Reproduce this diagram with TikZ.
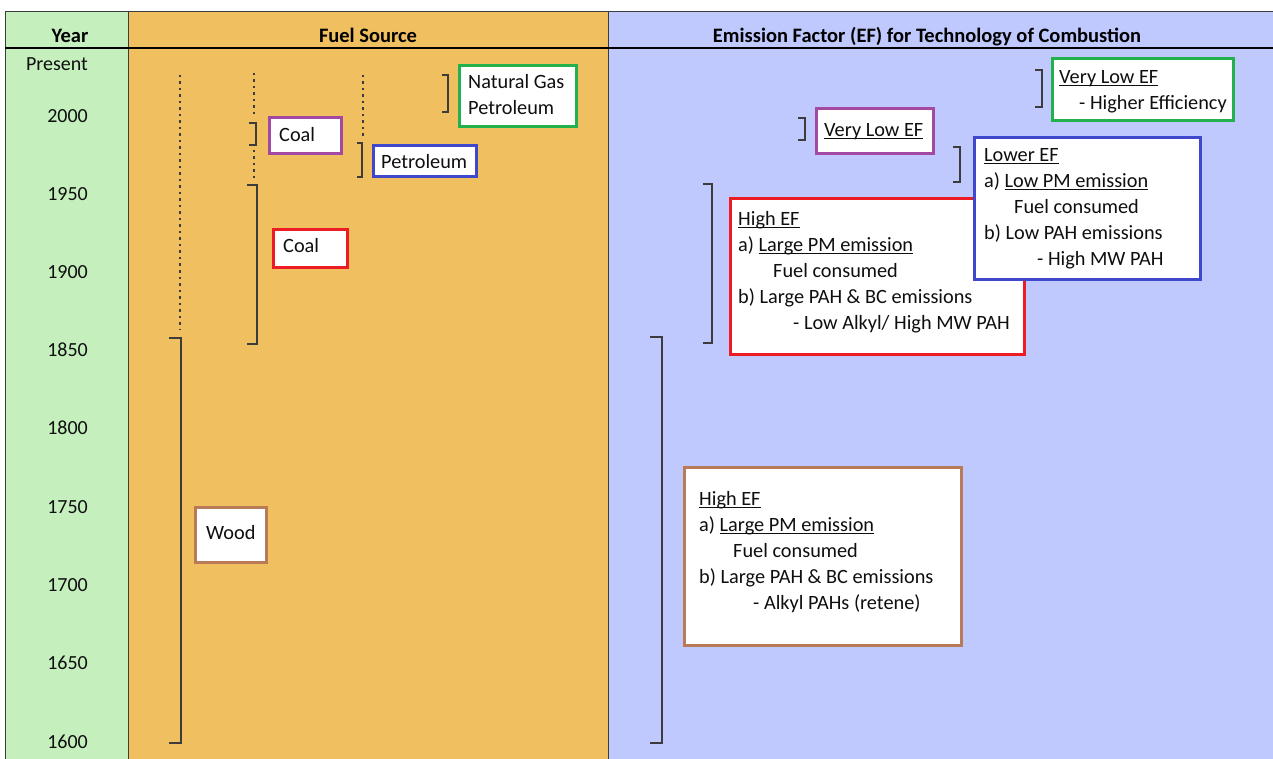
\documentclass[tikz,border=0pt]{standalone}
\usepackage{fontspec}
\setmainfont{Carlito}
\definecolor{colYear}{RGB}{198,239,190}
\definecolor{colFuel}{RGB}{240,192,96}
\definecolor{colEF}{RGB}{191,201,254}
\definecolor{bGreen}{RGB}{34,177,76}
\definecolor{bPurple}{RGB}{163,73,164}
\definecolor{bBlue}{RGB}{63,72,204}
\definecolor{bRed}{RGB}{237,28,36}
\definecolor{bBrown}{RGB}{185,122,87}
\definecolor{inkc}{RGB}{15,15,15}
\definecolor{gridc}{RGB}{60,60,60}
\newcommand\ulin[1]{\setbox0=\hbox{#1}\rlap{\rule[-2.4pt]{\wd0}{1.1pt}}\box0}
\tikzset{
  txt/.style={font=\fontsize{20.3}{24}\selectfont, inner sep=0pt, anchor=base west, text=inkc, yshift=-1.7pt},
  yr/.style={font=\fontsize{20}{24}\selectfont, inner sep=0pt, anchor=base east, text=inkc, yshift=-1.8pt},
  hdr/.style={font=\fontsize{20.5}{24}\selectfont\bfseries, inner sep=0pt, anchor=base, text=black, yshift=-0.8pt},
  box/.style={draw=#1, line width=3pt, fill=white, inner sep=0pt, outer sep=0pt, anchor=north west},
  brk/.style={draw=gridc, line width=1.4pt},
  dotl/.style={draw=gridc, line width=1.4pt, dash pattern=on 2.5pt off 4pt},
  gridl/.style={draw=gridc, line width=0.9pt}
}
\begin{document}
\begin{tikzpicture}[x=1pt,y=-1pt]
\useasboundingbox (0,0) rectangle (1273,759);
% backgrounds
\fill[white] (0,0) rectangle (1273,759);
\fill[colYear] (5,11) rectangle (128,759);
\fill[colFuel] (128,11) rectangle (608,759);
\fill[colEF] (608,11) rectangle (1273,759);
\draw[gridl] (5,759) -- (5,11) -- (1273,11);
\draw[gridl] (128,11) -- (128,759);
\draw[gridl] (608,11) -- (608,759);
\draw[line width=2pt, black] (5,48) -- (1273,48);
% headers
\node[hdr] (hYear) at (70,42) {Year};
\node[hdr] (hFuel) at (368,42) {Fuel Source};
\node[hdr] (hEF) at (927,42) {Emission Factor (EF) for Technology of Combustion};
% years
\node[yr] (yP) at (88,69) {Present};
\foreach \yv/\yy in {2000/121,1950/199,1900/277,1850/355,1800/433,1750/512,1700/590,1650/668,1600/747}
  \node[yr] (y\yv) at (88,\yy) {\yv};
% dotted lines
\draw[dotl] (180,75) -- (180,330);
\draw[dotl] (254,73) -- (254,118);
\draw[dotl] (254,150) -- (254,182);
\draw[dotl] (363,75) -- (363,138);
% brackets fuel
\draw[brk] (169,338) -- (181,338) -- (181,743) -- (169,743);
\draw[brk] (247,185) -- (257,185) -- (257,344) -- (247,344);
\draw[brk] (249,123) -- (256,123) -- (256,145) -- (249,145);
\draw[brk] (357,143) -- (362,143) -- (362,177) -- (357,177);
\draw[brk] (442,75) -- (448,75) -- (448,112) -- (442,112);
% brackets EF
\draw[brk] (1035,70) -- (1042,70) -- (1042,107) -- (1035,107);
\draw[brk] (798,118) -- (805,118) -- (805,140) -- (798,140);
\draw[brk] (953,147) -- (960,147) -- (960,182) -- (953,182);
\draw[brk] (703,184) -- (712,184) -- (712,343) -- (703,343);
\draw[brk] (650,337) -- (662,337) -- (662,743) -- (650,743);
% fuel boxes
\node[box=bGreen, minimum width=117pt, minimum height=61pt] (fNG) at (459.5,65.5) {};
\node[box=bPurple, minimum width=72pt, minimum height=36pt] (fCoal2) at (269.5,117.5) {};
\node[box=bBlue, minimum width=103pt, minimum height=31pt] (fPet) at (373.5,145.5) {};
\node[box=bRed, minimum width=74pt, minimum height=38pt] (fCoal1) at (273.5,229.5) {};
\node[box=bBrown, minimum width=71pt, minimum height=55pt] (fWood) at (195.5,507.5) {};
\node[txt] (tNG1) at (468,87) {Natural Gas};
\node[txt] (tNG2) at (468,113) {Petroleum};
\node[txt] (tCoal2) at (279,140) {Coal};
\node[txt] (tPet) at (381,167) {Petroleum};
\node[txt] (tCoal1) at (283,251) {Coal};
\node[txt] (tWood) at (206,538) {Wood};
% EF boxes
\node[box=bGreen, minimum width=181pt, minimum height=62pt] (eGreen) at (1052.5,58.5) {};
\node[box=bPurple, minimum width=117pt, minimum height=45pt] (ePurple) at (816.5,108.5) {};
\node[box=bRed, minimum width=294pt, minimum height=156pt] (eRed) at (730.5,198.5) {};
\node[box=bBlue, minimum width=226pt, minimum height=142pt] (eBlue) at (974.5,137.5) {};
\node[box=bBrown, minimum width=277pt, minimum height=178pt] (eBrown) at (684.5,467.5) {};
% green EF text
\node[txt] (g1) at (1059,82) {\ulin{Very Low EF}};
\node[txt] (g2) at (1079,108) {- Higher Efficiency};
% purple EF text
\node[txt] (p1) at (824,135) {\ulin{Very Low EF}};
% red EF text
\node[txt] (r1) at (738,224) {\ulin{High EF}};
\node[txt] (r2) at (738,250) {a) \ulin{Large PM emission}};
\node[txt] (r3) at (773,276) {Fuel consumed};
\node[txt] (r4) at (738,302) {b) Large PAH \& BC emissions};
\node[txt] (r5) at (793,328) {- Low Alkyl/ High MW PAH};
% blue EF text
\node[txt] (b1) at (984,160) {\ulin{Lower EF}};
\node[txt] (b2) at (984,186) {a) \ulin{Low PM emission}};
\node[txt] (b3) at (1014,212) {Fuel consumed};
\node[txt] (b4) at (984,238) {b) Low PAH emissions};
\node[txt] (b5) at (1037,264) {- High MW PAH};
% brown EF text
\node[txt] (w1) at (699,504) {\ulin{High EF}};
\node[txt] (w2) at (699,530) {a) \ulin{Large PM emission}};
\node[txt] (w3) at (733,556) {Fuel consumed};
\node[txt] (w4) at (699,582) {b) Large PAH \& BC emissions};
\node[txt] (w5) at (753,608) {- Alkyl PAHs (retene)};
\end{tikzpicture}
\end{document}
